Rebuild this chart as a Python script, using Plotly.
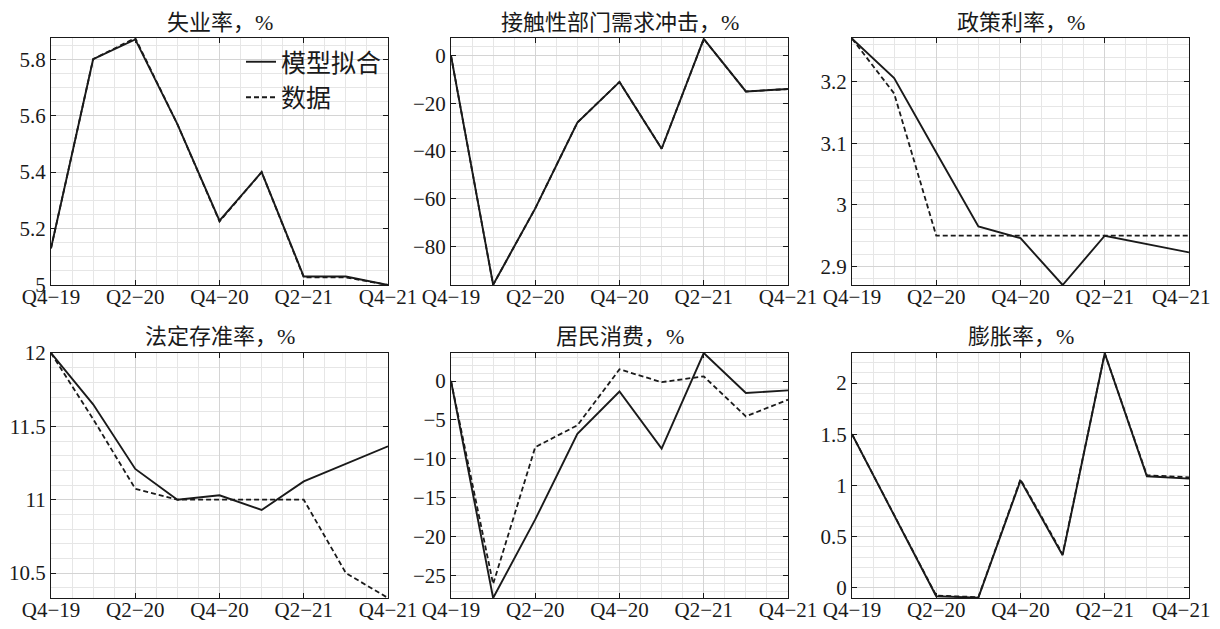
import plotly.graph_objects as go

quarters = ["Q4−19", "Q1−20", "Q2−20", "Q3−20", "Q4−20", "Q1−21", "Q2−21", "Q3−21", "Q4−21"]
tick_labels = ["Q4−19", "Q2−20", "Q4−20", "Q2−21", "Q4−21"]

titles = ["失业率，%", "接触性部门需求冲击，%", "政策利率，%",
          "法定存准率，%", "居民消费，%", "膨胀率，%"]

unemp_model = [5.13, 5.80, 5.87, 5.57, 5.228, 5.40, 5.03, 5.03, 5.00]
unemp_data = [5.13, 5.80, 5.875, 5.57, 5.225, 5.40, 5.027, 5.027, 5.00]

shock_model = [0.0, -96.0, -64.0, -28.0, -11.0, -39.0, 7.0, -15.0, -14.0]
shock_data = [0.0, -96.0, -64.0, -28.0, -11.0, -39.0, 7.0, -15.0, -14.0]

rate_model = [3.27, 3.206, 3.085, 2.965, 2.946, 2.870, 2.950, 2.937, 2.923]
rate_data = [3.27, 3.181, 2.95, 2.95, 2.95, 2.95, 2.95, 2.95, 2.95]

rrr_model = [12.0, 11.65, 11.21, 11.0, 11.03, 10.93, 11.125, 11.245, 11.364]
rrr_data = [12.0, 11.55, 11.075, 11.0, 11.0, 11.0, 11.0, 10.5, 10.33]

cons_model = [0.0, -27.9, -17.8, -6.8, -1.35, -8.7, 3.6, -1.55, -1.2]
cons_data = [0.0, -26.1, -8.5, -5.7, 1.5, -0.15, 0.6, -4.55, -2.4]

infl_model = [1.5, 0.71, -0.081, -0.094, 1.05, 0.32, 2.29, 1.09, 1.067]
infl_data = [1.5, 0.71, -0.075, -0.09, 1.06, 0.33, 2.29, 1.10, 1.08]

models = [unemp_model, shock_model, rate_model, rrr_model, cons_model, infl_model]
datas = [unemp_data, shock_data, rate_data, rrr_data, cons_data, infl_data]

y_ranges = [[5.0, 5.875], [-96.1, 7.4], [2.870, 3.271], [10.33, 12.0], [-27.9, 3.6], [-0.098, 2.293]]
y_dticks = [0.2, 20, 0.1, 0.5, 5, 0.5]
y_minor = [0.05, 4, 0.02, 0.1, 1, 0.1]

# page has an 8px body margin; figure drawn in its own coordinates
OFF = 8
W, H = 1220 - OFF, 629 - OFF
x_px = [(51 - OFF, 388 - OFF), (451 - OFF, 788 - OFF), (852 - OFF, 1189 - OFF)]
y_px = [(38 - OFF, 285 - OFF), (353 - OFF, 598 - OFF)]
title_y = [23 - OFF, 336 - OFF]

FONT = "Liberation Serif, Noto Sans CJK SC"
BLACK = "#1a1a1a"
NB = "\u00a0"

fig = go.Figure()
idx = list(range(len(quarters)))
annotations = []
for k in range(6):
    r, c = divmod(k, 3)
    n = k + 1
    xa = "x" if n == 1 else f"x{n}"
    ya = "y" if n == 1 else f"y{n}"
    fig.add_trace(go.Scatter(x=idx, y=models[k], mode="lines", name="模型拟合",
                             line=dict(color=BLACK, width=1.9), xaxis=xa, yaxis=ya,
                             showlegend=(k == 0), legendgroup="m", hoverinfo="skip"))
    fig.add_trace(go.Scatter(x=idx, y=datas[k], mode="lines", name="数据",
                             line=dict(color=BLACK, width=1.8, dash="5px,3px"), xaxis=xa, yaxis=ya,
                             showlegend=(k == 0), legendgroup="d", hoverinfo="skip"))
    xd = [x_px[c][0] / W, x_px[c][1] / W]
    yd = [1 - y_px[r][1] / H, 1 - y_px[r][0] / H]
    common = dict(showline=True, linecolor=BLACK, linewidth=1, mirror="ticks",
                  ticks="inside", ticklen=5, tickcolor=BLACK, tickwidth=1,
                  showgrid=True, gridcolor="#d4d4d4", gridwidth=1, zeroline=False,
                  automargin=False, ticklabeloverflow="allow",
                  tickfont=dict(family=FONT, size=21, color=BLACK))
    xkey = "xaxis" if n == 1 else f"xaxis{n}"
    ykey = "yaxis" if n == 1 else f"yaxis{n}"
    ttext = list(tick_labels)
    if c == 2:
        # keep the right-most label inside the page, as in the reference
        ttext[-1] = ttext[-1] + NB * 3
    fig.layout[xkey] = dict(domain=xd, anchor=ya, range=[0, 8], tickmode="array",
                            tickvals=[0, 2, 4, 6, 8], ticktext=ttext,
                            ticklabelstandoff=-7,
                            minor=dict(tickmode="linear", tick0=0, dtick=0.5, showgrid=True,
                                       gridcolor="#e6e6e6", gridwidth=1, ticks=""),
                            **common)
    fig.layout[ykey] = dict(domain=yd, anchor=xa, range=y_ranges[k], tickmode="linear",
                            tick0=0, dtick=y_dticks[k],
                            minor=dict(tickmode="linear", tick0=0, dtick=y_minor[k], showgrid=True,
                                       gridcolor="#e6e6e6", gridwidth=1, ticks=""),
                            **common)
    annotations.append(dict(text=titles[k], x=(xd[0] + xd[1]) / 2, y=1 - title_y[r] / H,
                            xref="paper", yref="paper", xanchor="center", yanchor="middle",
                            showarrow=False, font=dict(family=FONT, size=22, color=BLACK)))

fig.update_layout(
    width=W, height=H, margin=dict(l=0, r=0, t=0, b=0, autoexpand=False),
    paper_bgcolor="white", plot_bgcolor="white",
    annotations=annotations,
    legend=dict(x=233 / W, y=1 - 31 / H, xanchor="left", yanchor="top",
                bgcolor="rgba(255,255,255,0)", borderwidth=0,
                font=dict(family=FONT, size=25, color=BLACK),
                tracegroupgap=0, itemwidth=30),
    font=dict(family=FONT, size=21, color=BLACK),
)

fig.write_html("out.html")
